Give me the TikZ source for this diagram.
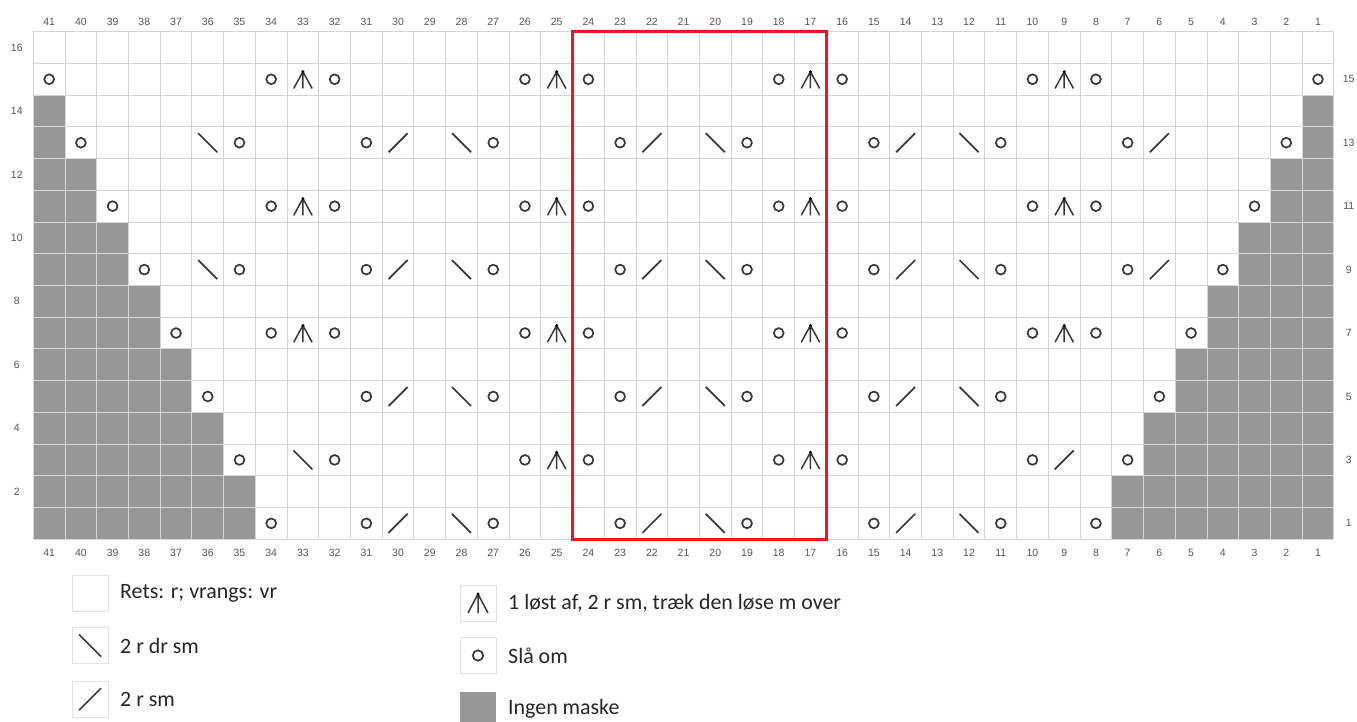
\documentclass[tikz,border=0pt]{standalone}
\usepackage{fontspec}
\setmainfont{Carlito}
\newfontfamily\numfont{Liberation Sans}
\usetikzlibrary{calc}
\definecolor{nomaskgray}{HTML}{979797}
\definecolor{gridgray}{HTML}{D6D6D6}
\definecolor{symgray}{HTML}{383838}
\definecolor{numgray}{HTML}{555555}
\definecolor{boxred}{HTML}{E5191E}
\definecolor{legborder}{HTML}{E2E2E2}
\tikzset{
  nomask/.style={fill=nomaskgray},
  gridline/.style={draw=gridgray, line width=0.9pt},
  sym/.style={draw=symgray, line width=1.7pt},
  num/.style={font=\numfont\fontsize{10.5}{12}\selectfont, text=numgray, inner sep=0pt},
  legbox/.style={draw=legborder, line width=1pt, minimum size=36pt, inner sep=0pt},
  legtext/.style={anchor=west, inner sep=0pt, text=black!85, font=\fontsize{21.9}{25}\selectfont},
  redbox/.style={draw=boxred, line width=3.4pt}
}
\begin{document}
\begin{tikzpicture}[x=1pt,y=-1pt]
\useasboundingbox[fill=white] (0,0) rectangle (1357,722);
\begin{scope}[shift={(33.3pt,-31.7pt)},x=31.72pt,y=-31.72pt]
  % no-stitch cells
  \foreach \r in {1,...,14}{
    \pgfmathtruncatemacro\n{(16-\r)/2}
    \fill[nomask] (0,16-\r) rectangle (\n,17-\r);
    \fill[nomask] ({41-\n},16-\r) rectangle (41,17-\r);
  }
  % grid
  \foreach \i in {0,...,41} \draw[gridline] (\i,0) -- (\i,16);
  \foreach \j in {0,...,16} \draw[gridline] (0,\j) -- (41,\j);
  % column numbers
  \foreach \k in {1,...,41}{
    \node[num] (t\k) at ({41.5-\k},-0.315) {\k};
    \node[num] (b\k) at ({41.5-\k},16.43) {\k};
  }
  % row numbers
  \foreach \r in {2,4,...,16} \node[num] (l\r) at (-0.52,{16.5-\r}) {\r};
  \foreach \r in {1,3,...,15} \node[num] (rn\r) at (41.47,{16.5-\r}) {\r};
  % yarn overs
  \foreach \k/\r in {41/15,34/15,32/15,26/15,24/15,18/15,16/15,10/15,8/15,1/15,
                     40/13,35/13,31/13,27/13,23/13,19/13,15/13,11/13,7/13,2/13,
                     39/11,34/11,32/11,26/11,24/11,18/11,16/11,10/11,8/11,3/11,
                     38/9,35/9,31/9,27/9,23/9,19/9,15/9,11/9,7/9,4/9,
                     37/7,34/7,32/7,26/7,24/7,18/7,16/7,10/7,8/7,5/7,
                     36/5,31/5,27/5,23/5,19/5,15/5,11/5,6/5,
                     35/3,32/3,26/3,24/3,18/3,16/3,10/3,7/3,
                     34/1,31/1,27/1,23/1,19/1,15/1,11/1,8/1}
    \draw[sym] ({41.5-\k},{16.5-\r}) circle[radius=4.9pt];
  % k2tog "/"
  \foreach \k/\r in {30/13,22/13,14/13,6/13,30/9,22/9,14/9,6/9,
                     30/5,22/5,14/5,9/3,30/1,22/1,14/1}
    \draw[sym] ({41.5-\k-0.3},{16.5-\r+0.3}) -- ({41.5-\k+0.3},{16.5-\r-0.3});
  % ssk "\"
  \foreach \k/\r in {36/13,28/13,20/13,12/13,36/9,28/9,20/9,12/9,
                     28/5,20/5,12/5,33/3,28/1,20/1,12/1}
    \draw[sym] ({41.5-\k-0.3},{16.5-\r-0.3}) -- ({41.5-\k+0.3},{16.5-\r+0.3});
  % sk2p
  \foreach \k/\r in {33/15,25/15,17/15,9/15,33/11,25/11,17/11,9/11,
                     33/7,25/7,17/7,9/7,25/3,17/3}{
    \draw[sym, line width=1.5pt, line join=round]
      ({41.5-\k-0.29},{16.5-\r+0.29}) -- ({41.5-\k},{16.5-\r-0.24}) -- ({41.5-\k+0.29},{16.5-\r+0.29})
      ({41.5-\k},{16.5-\r-0.24}) -- ({41.5-\k},{16.5-\r+0.29});
    \fill[black] ({41.5-\k},{16.5-\r-0.24}) circle[radius=1.6pt];
  }
  % repeat box
  \draw[redbox] (17,0) rectangle (25,16);
\end{scope}
% legend, left column
\node[legbox] (lb1) at (90,593.3) {};
\node[legtext] (lt1) at (120,593.3) {Rets: r; vrangs: vr};
\node[legbox] (lb2) at (90,645.5) {};
\node[legtext] (lt2) at (120,645.5) {2 r dr sm};
\draw[sym, line width=1.5pt] ($(lb2.center)+(-11,-11)$) -- ($(lb2.center)+(11,11)$);
\node[legbox] (lb3) at (90,699.2) {};
\node[legtext] (lt3) at (120,699.2) {2 r sm};
\draw[sym, line width=1.5pt] ($(lb3.center)+(-11,11)$) -- ($(lb3.center)+(11,-11)$);
% legend, right column
\node[legbox] (rb1) at (478,603) {};
\node[legtext] (rt1) at (508,603) {1 løst af, 2 r sm, træk den løse m over};
\draw[sym, line width=1.5pt, line join=round]
  ($(rb1.center)+(-10,10)$) -- ($(rb1.center)+(0,-9)$) -- ($(rb1.center)+(10,10)$)
  ($(rb1.center)+(0,-9)$) -- ($(rb1.center)+(0,10)$);
\fill[black] ($(rb1.center)+(0,-9)$) circle[radius=1.6pt];
\node[legbox] (rb2) at (478,655.5) {};
\node[legtext] (rt2) at (508,655.5) {Slå om};
\draw[sym] (rb2.center) circle[radius=5.2pt];
\fill[nomask] (460,691.7) rectangle (496,722);
\node[legtext] (rt3) at (508,708.5) {Ingen maske};
\end{tikzpicture}
\end{document}
